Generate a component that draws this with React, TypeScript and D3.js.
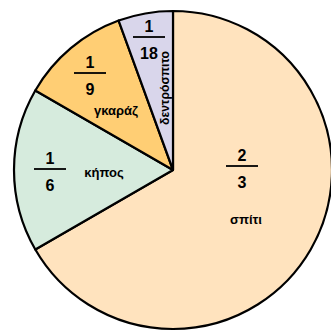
import React from "react";
import * as d3 from "d3";

const categories = ["σπίτι", "κήπος", "γκαράζ", "δεντρόσπιτο"];
const numerators = [2, 1, 1, 1];
const denominators = [3, 6, 9, 18];
const colors = ["#FFE3BE", "#D6EBDD", "#FFCE74", "#D9D6EB"];

// label layout, relative to pie centre (px)
const fracPos: [number, number][] = [[69, -3], [-123, 0], [-83, -96], [-24, -132]];
const namePos: [number, number][] = [[73, 49], [-69, 2], [-57, -60], [-9, -82]];
const nameRot = [0, 0, 0, -90];
const nameLen = [0, 0, 0, 74];

export default function App() {
  const W = 331, H = 331;
  const cx = 173, cy = 170, r = 159;
  const values = numerators.map((n, i) => n / denominators[i]);
  const pie = d3.pie<number>().sort(null).value((d) => d);
  const arcs = pie(values);
  const arc = d3.arc<d3.PieArcDatum<number>>().innerRadius(0).outerRadius(r);
  const font = "'Liberation Sans', Arial, sans-serif";
  return (
    <svg width={W} height={H} style={{ position: "absolute", left: 0, top: 0 }}>
      <rect width={W} height={H} fill="#fff" />
      <g transform={`translate(${cx},${cy})`}>
        {arcs.map((a, i) => (
          <path key={i} d={arc(a) || ""} fill={colors[i]} stroke="#000" strokeWidth={2.2} strokeLinejoin="round" />
        ))}
        {arcs.map((a, i) => {
          const [fx, fy] = fracPos[i];
          const [nx, ny] = namePos[i];
          const num = String(numerators[i]);
          const den = String(denominators[i]);
          const lw = 32;
          const extra = nameLen[i] ? { textLength: nameLen[i], lengthAdjust: "spacingAndGlyphs" } : {};
          return (
            <g key={"l" + i} fontFamily={font} fontWeight="bold" fill="#000">
              <text x={fx} y={fy - 6} textAnchor="middle" fontSize={16}>{num}</text>
              <line x1={fx - lw / 2} x2={fx + lw / 2} y1={fy - 1} y2={fy - 1} stroke="#000" strokeWidth={1.8} />
              <text x={fx} y={fy + 21} textAnchor="middle" fontSize={16}>{den}</text>
              <text
                x={0}
                y={0}
                transform={`translate(${nx},${ny}) rotate(${nameRot[i]})`}
                textAnchor="middle"
                dominantBaseline="central"
                fontSize={13}
                {...extra}
              >
                {categories[i]}
              </text>
            </g>
          );
        })}
      </g>
    </svg>
  );
}
